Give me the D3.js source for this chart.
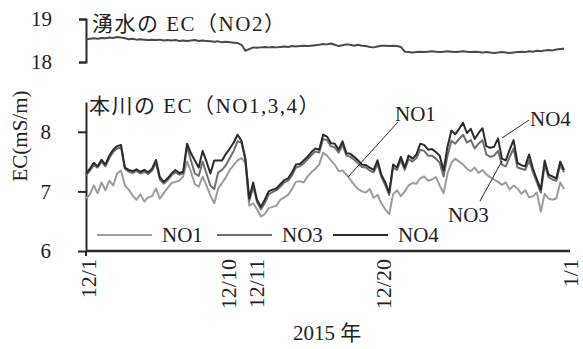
<!DOCTYPE html>
<html lang="ja">
<head>
<meta charset="utf-8">
<script src="https://cdn.jsdelivr.net/npm/d3@7"></script>
<style>
  html, body { margin: 0; padding: 0; background: #fff; }
  svg { display: block; }
  text { font-family: 'Liberation Serif', 'Noto Sans CJK JP', serif; fill: #222; }
</style>
</head>
<body>
<svg id="chart" width="583" height="349"></svg>
<script>
// Readings every 6 hours from 2015-12-01 00:00
const startTime = new Date(2015, 11, 1, 0, 0);
const endTime = new Date(2016, 0, 1, 0, 0);
const stepHours = 6;

// Spring water EC at NO2 (mS/m)
const no2 = [
  18.52, 18.54, 18.55, 18.54, 18.56, 18.55, 18.57, 18.56, 18.58, 18.57,
  18.55, 18.53, 18.54, 18.52, 18.53, 18.52, 18.51, 18.52, 18.51, 18.52,
  18.50, 18.51, 18.50, 18.51, 18.49, 18.50, 18.49, 18.50, 18.51, 18.49,
  18.50, 18.49, 18.48, 18.47, 18.48, 18.46, 18.47, 18.46, 18.45, 18.44,
  18.40, 18.26, 18.30, 18.34, 18.33, 18.34, 18.35, 18.34, 18.35, 18.34,
  18.35, 18.36, 18.35, 18.37, 18.36, 18.37, 18.38, 18.37, 18.38, 18.39,
  18.40, 18.42, 18.41, 18.43, 18.40, 18.37, 18.39, 18.41, 18.40, 18.38,
  18.40, 18.38, 18.37, 18.35, 18.34, 18.36, 18.38, 18.38, 18.37, 18.38,
  18.37, 18.35, 18.24, 18.23, 18.22, 18.23, 18.24, 18.23, 18.24, 18.25,
  18.24, 18.23, 18.24, 18.25, 18.24, 18.23, 18.24, 18.25, 18.24, 18.23,
  18.24, 18.23, 18.22, 18.23, 18.22, 18.21, 18.22, 18.23, 18.22, 18.21,
  18.22, 18.23, 18.24, 18.23, 18.25, 18.24, 18.26, 18.25, 18.27, 18.28,
  18.27, 18.29, 18.30, 18.31
];

// Main river EC at NO1 (mS/m)
const no1 = [
  6.88, 6.95, 7.10, 6.97, 7.15, 7.02, 7.18, 7.10, 7.30, 7.35,
  7.10, 7.03, 6.93, 6.86, 6.95, 6.83, 6.90, 6.92, 7.05, 6.88,
  6.97, 7.06, 7.14, 7.16, 7.18, 7.25, 7.50, 7.33, 7.12, 7.08,
  7.25, 7.10, 6.93, 6.80, 7.05, 7.14, 7.24, 7.36, 7.44, 7.52,
  7.56, 7.48, 6.76, 6.80, 6.70, 6.58, 6.62, 6.72, 6.74, 6.76,
  6.86, 6.90, 6.94, 7.04, 7.16, 7.17, 7.15, 7.25, 7.32, 7.38,
  7.45, 7.65, 7.60, 7.52, 7.45, 7.34, 7.35, 7.28, 7.20, 7.11,
  7.04, 7.00, 6.98, 7.04, 6.89, 6.94, 6.80, 6.70, 6.62, 6.95,
  7.02, 6.92, 7.00, 7.10, 7.14, 7.13, 7.22, 7.25, 7.18, 7.20,
  7.24, 7.10, 6.97, 7.30, 7.48, 7.55, 7.50, 7.45, 7.38, 7.34,
  7.40, 7.31, 7.36, 7.28, 7.24, 7.20, 7.16, 7.11, 7.15, 7.03,
  7.10, 7.05, 6.96, 7.02, 6.90, 6.92, 6.98, 6.66, 6.96, 6.88,
  6.86, 6.88, 7.15, 7.04
];

// Main river EC at NO3 (mS/m)
const no3 = [
  7.27, 7.35, 7.44, 7.40, 7.50, 7.42, 7.56, 7.66, 7.72, 7.74,
  7.38, 7.33, 7.31, 7.34, 7.30, 7.33, 7.29, 7.35, 7.48, 7.20,
  7.13, 7.19, 7.27, 7.32, 7.28, 7.30, 7.76, 7.52, 7.30, 7.26,
  7.50, 7.30, 7.10, 7.04, 7.32, 7.36, 7.44, 7.56, 7.68, 7.84,
  7.82, 7.52, 6.84, 7.08, 6.82, 6.70, 6.80, 6.95, 6.99, 7.02,
  7.08, 7.15, 7.18, 7.27, 7.40, 7.42, 7.47, 7.54, 7.61, 7.67,
  7.65, 7.88, 7.86, 7.76, 7.74, 7.65, 7.78, 7.60, 7.58, 7.53,
  7.47, 7.41, 7.40, 7.35, 7.32, 7.46, 7.24, 7.10, 6.94, 7.40,
  7.36, 7.52, 7.36, 7.54, 7.50, 7.56, 7.70, 7.68, 7.60, 7.60,
  7.55, 7.48, 7.25, 7.60, 7.85, 7.80, 7.88, 7.95, 7.82, 7.86,
  7.72, 7.80, 7.86, 7.62, 7.58, 7.60, 7.68, 7.45, 7.42, 7.58,
  7.72, 7.40, 7.38, 7.36, 7.52, 7.32, 7.15, 6.98, 7.44, 7.24,
  7.20, 7.18, 7.44, 7.32
];

// Main river EC at NO4 (mS/m)
const no4 = [
  7.30, 7.38, 7.48, 7.42, 7.53, 7.45, 7.60, 7.70, 7.76, 7.78,
  7.40, 7.36, 7.34, 7.37, 7.33, 7.36, 7.32, 7.38, 7.53, 7.24,
  7.16, 7.22, 7.30, 7.36, 7.31, 7.33, 7.80, 7.64, 7.52, 7.40,
  7.68, 7.50, 7.30, 7.52, 7.52, 7.52, 7.63, 7.72, 7.82, 7.95,
  7.85, 7.55, 6.88, 7.15, 6.86, 6.74, 6.86, 7.00, 7.03, 7.05,
  7.12, 7.19, 7.22, 7.32, 7.45, 7.46, 7.52, 7.58, 7.66, 7.72,
  7.70, 7.95, 7.92, 7.81, 7.80, 7.70, 7.84, 7.64, 7.63, 7.58,
  7.52, 7.45, 7.44, 7.40, 7.36, 7.52, 7.28, 7.15, 6.98, 7.45,
  7.40, 7.58, 7.40, 7.60, 7.55, 7.62, 7.80, 7.78, 7.70, 7.71,
  7.66, 7.60, 7.35, 7.75, 8.02, 7.96, 8.05, 8.15, 7.98, 8.05,
  7.88, 7.98, 8.06, 7.76, 7.73, 7.75, 7.89, 7.55, 7.52, 7.70,
  7.86, 7.48, 7.44, 7.42, 7.62, 7.38, 7.20, 7.03, 7.52, 7.28,
  7.25, 7.22, 7.50, 7.36
];

const seriesNames = ["NO1", "NO3", "NO4"];
const seriesColors = ["#9c9c9c", "#6e6e6e", "#2b2b2b"];
const topTicks = [18, 19];
const bottomTicks = [6, 7, 8];
const dateTicks = [
  new Date(2015, 11, 1), new Date(2015, 11, 10), new Date(2015, 11, 11),
  new Date(2015, 11, 20), new Date(2016, 0, 1)
];
const dateLabels = ["12/1", "12/10", "12/11", "12/20", "1/1"];

const times = no1.map((_, i) => d3.timeHour.offset(startTime, i * stepHours));

const svg = d3.select("#chart");
const ink = "#2a2a2a";

const x = d3.scaleTime().domain([startTime, endTime]).range([86, 568]);
const yTop = d3.scaleLinear().domain([18, 19]).range([62, 19]);
const yBot = d3.scaleLinear().domain([6, 8.5]).range([251, 102]);

// ---- upper panel: spring water ----
const gTop = svg.append("g").attr("transform", "translate(86,0)");
gTop.call(d3.axisLeft(yTop).tickValues(topTicks).tickSize(7).tickSizeOuter(7).tickPadding(27).tickFormat(d3.format("d")));
gTop.selectAll("path.domain").attr("stroke", ink).attr("stroke-width", 2);
gTop.selectAll(".tick line").attr("stroke", ink).attr("stroke-width", 2);
gTop.selectAll(".tick text").attr("font-size", 21).attr("fill", "#222")
  .style("font-family", "'Liberation Serif', serif");

svg.append("path")
  .datum(no2)
  .attr("fill", "none")
  .attr("stroke", "#4a4a4a")
  .attr("stroke-width", 2)
  .attr("stroke-linejoin", "round")
  .attr("d", d3.line().x((d, i) => x(times[i])).y(d => yTop(d)));

svg.append("text").attr("x", 92).attr("y", 31).attr("font-size", 21)
  .attr("letter-spacing", 1.5)
  .text("湧水の EC（NO2）");

// ---- lower panel: main river ----
const gBot = svg.append("g").attr("transform", "translate(86,0)");
gBot.call(d3.axisLeft(yBot).tickValues(bottomTicks).tickSize(8).tickSizeOuter(0).tickPadding(27).tickFormat(d3.format("d")));
gBot.selectAll("path.domain").attr("stroke", ink).attr("stroke-width", 2);
gBot.selectAll(".tick line").attr("stroke", ink).attr("stroke-width", 2);
gBot.selectAll(".tick text").attr("font-size", 21).attr("fill", "#222")
  .style("font-family", "'Liberation Serif', serif");

// time axis line
svg.append("line")
  .attr("x1", x(startTime)).attr("x2", x(endTime) + 2)
  .attr("y1", yBot(6)).attr("y2", yBot(6))
  .attr("stroke", ink).attr("stroke-width", 2.5);
svg.append("line")
  .attr("x1", x(startTime)).attr("x2", x(startTime))
  .attr("y1", yBot(6)).attr("y2", yBot(6) + 5)
  .attr("stroke", ink).attr("stroke-width", 2);

// rotated date labels, nudging any label that would collide with its neighbour
let prevPos = -Infinity;
dateTicks.forEach((d, i) => {
  let px = x(d) + 2;
  if (px - prevPos < 24) px = prevPos + 28;
  prevPos = px;
  svg.append("text")
    .attr("transform", `translate(${px},${yBot(6) + 8}) rotate(-90)`)
    .attr("text-anchor", "end")
    .attr("dy", "0.35em")
    .attr("font-size", 22)
    .text(dateLabels[i]);
});

svg.append("text").attr("x", 327).attr("y", 340).attr("text-anchor", "middle")
  .attr("font-size", 21).text("2015 年");

svg.append("text")
  .attr("transform", "translate(27,136) rotate(-90)")
  .attr("text-anchor", "middle")
  .attr("font-size", 21)
  .text("EC(mS/m)");

svg.append("text").attr("x", 89).attr("y", 113).attr("font-size", 21)
  .attr("letter-spacing", 1.5)
  .text("本川の EC（NO1,3,4）");

const river = [no1, no3, no4];
const line = d3.line().x((d, i) => x(times[i])).y(d => yBot(d));
river.forEach((vals, k) => {
  svg.append("path")
    .datum(vals)
    .attr("fill", "none")
    .attr("stroke", seriesColors[k])
    .attr("stroke-width", 2)
    .attr("stroke-linejoin", "round")
    .attr("d", line);
});

// legend
const legendX = [97, 217, 333];
seriesNames.forEach((name, k) => {
  svg.append("line")
    .attr("x1", legendX[k]).attr("x2", legendX[k] + 55)
    .attr("y1", 235).attr("y2", 235)
    .attr("stroke", seriesColors[k]).attr("stroke-width", 2);
  svg.append("text").attr("x", legendX[k] + 65).attr("y", 242)
    .attr("font-size", 21).text(name);
});

// leader-line labels
const callouts = [
  { name: "NO1", tx: 395, ty: 121, x1: 398, y1: 122, x2: 348, y2: 177 },
  { name: "NO4", tx: 530, ty: 126, x1: 529, y1: 120, x2: 502, y2: 138 },
  { name: "NO3", tx: 448, ty: 222, x1: 480, y1: 201, x2: 502, y2: 161 }
];
callouts.forEach(c => {
  svg.append("line")
    .attr("x1", c.x1).attr("y1", c.y1).attr("x2", c.x2).attr("y2", c.y2)
    .attr("stroke", ink).attr("stroke-width", 1);
  svg.append("text").attr("x", c.tx).attr("y", c.ty).attr("font-size", 21).text(c.name);
});
</script>
</body>
</html>
